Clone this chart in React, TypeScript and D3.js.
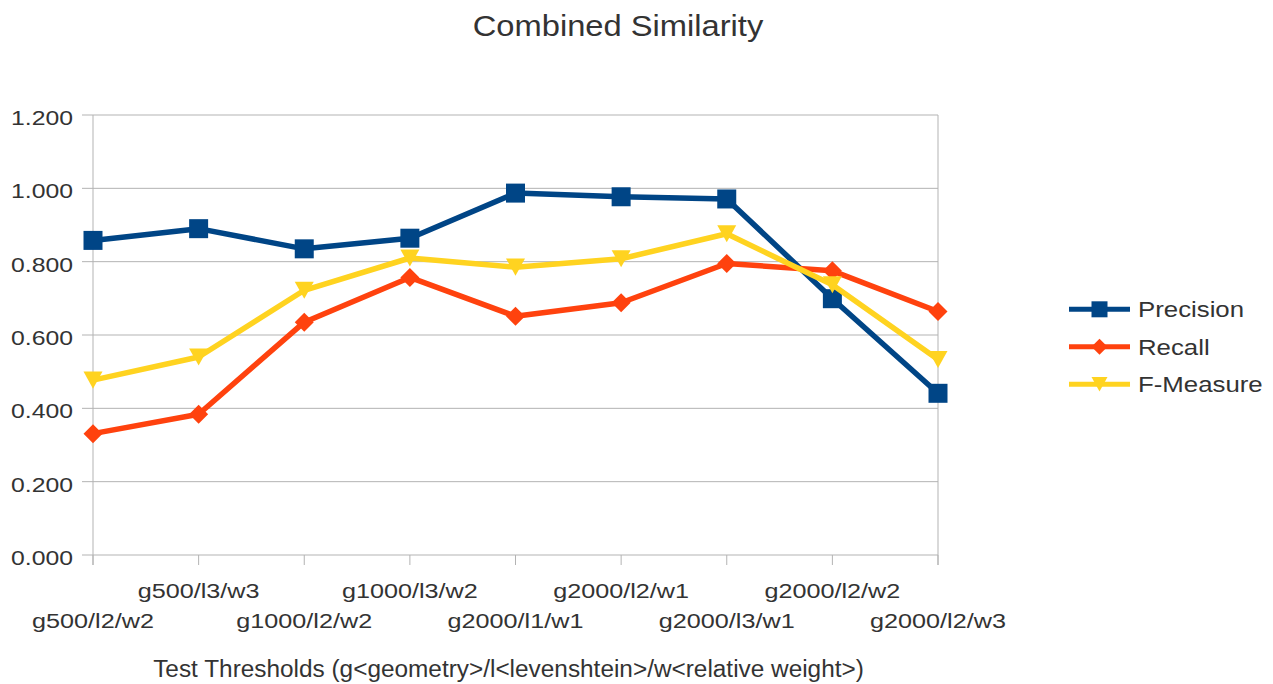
import React from "react";
import * as d3 from "d3";

const categories = [
  "g500/l2/w2",
  "g500/l3/w3",
  "g1000/l2/w2",
  "g1000/l3/w2",
  "g2000/l1/w1",
  "g2000/l2/w1",
  "g2000/l3/w1",
  "g2000/l2/w2",
  "g2000/l2/w3",
];

const precision = [0.858, 0.89, 0.835, 0.864, 0.987, 0.977, 0.971, 0.699, 0.441];
const recall = [0.331, 0.384, 0.635, 0.757, 0.651, 0.688, 0.795, 0.775, 0.664];
const fMeasure = [0.477, 0.54, 0.722, 0.81, 0.785, 0.808, 0.876, 0.737, 0.533];

const yTicks = [0, 0.2, 0.4, 0.6, 0.8, 1.0, 1.2];

const seriesNames = ["Precision", "Recall", "F-Measure"];
const seriesColors = ["#004586", "#ff420e", "#ffd320"];
const seriesShapes = ["square", "diamond", "triangle"];

const FONT = "'Liberation Sans', Arial, sans-serif";
const TEXT = "#333333";
const GRID = "#b3b3b3";

function markerPath(shape: string, r: number) {
  if (shape === "square") return `M${-r},${-r}H${r}V${r}H${-r}Z`;
  if (shape === "diamond") return `M0,${-r}L${r},0L0,${r}L${-r},0Z`;
  return `M${-r},${-r * 0.9}L${r},${-r * 0.9}L0,${r * 0.9}Z`;
}

export default function App() {
  const W = 1273;
  const H = 684;
  const left = 93;
  const right = 938;
  const top = 115;
  const bottom = 555;

  const x = d3.scalePoint<string>().domain(categories).range([left, right]);
  const y = d3.scaleLinear().domain([0, 1.2]).range([bottom, top]);

  const data = [precision, recall, fMeasure];
  const line = d3
    .line<number>()
    .x((_, i) => x(categories[i]) as number)
    .y((d) => y(d));

  const fmt = d3.format(".3f");

  return (
    <svg
      width={W}
      height={H}
      style={{ position: "absolute", left: 0, top: 0, background: "#fff" }}
      fontFamily={FONT}
    >
      <rect x={0} y={0} width={W} height={H} fill="#fff" />
      {/* title */}
      <text
        transform={`translate(618,35.5) scale(1.09,1)`}
        textAnchor="middle"
        fontSize={30}
        fill={TEXT}
      >
        Combined Similarity
      </text>

      {/* gridlines */}
      {yTicks.map((t) => (
        <line
          key={"g" + t}
          x1={left - 11}
          x2={right}
          y1={y(t)}
          y2={y(t)}
          stroke={GRID}
          strokeWidth={1}
        />
      ))}
      <line x1={left} x2={left} y1={top} y2={bottom + 10} stroke={GRID} strokeWidth={1} />
      <line x1={right} x2={right} y1={top} y2={bottom + 10} stroke={GRID} strokeWidth={1} />
      {categories.map((c) => (
        <line
          key={"xt" + c}
          x1={x(c)}
          x2={x(c)}
          y1={bottom}
          y2={bottom + 10}
          stroke={GRID}
          strokeWidth={1}
        />
      ))}

      {/* y labels */}
      {yTicks.map((t) => (
        <text
          key={"yl" + t}
          transform={`translate(73,${y(t) + 10}) scale(1.18,1)`}
          textAnchor="end"
          fontSize={21}
          fill={TEXT}
        >
          {fmt(t)}
        </text>
      ))}

      {/* x labels */}
      {categories.map((c, i) => (
        <text
          key={"xl" + c}
          transform={`translate(${x(c)},${i % 2 === 0 ? 627.5 : 597.5}) scale(1.2,1)`}
          textAnchor="middle"
          fontSize={21}
          fill={TEXT}
        >
          {c}
        </text>
      ))}

      {/* x axis title */}
      <text
        transform={`translate(508.5,677) scale(1.06,1)`}
        textAnchor="middle"
        fontSize={23}
        fill={TEXT}
      >
        {"Test Thresholds (g<geometry>/l<levenshtein>/w<relative weight>)"}
      </text>

      {/* series */}
      {data.map((vals, si) => (
        <g key={"s" + si}>
          <path
            d={line(vals) || ""}
            fill="none"
            stroke={seriesColors[si]}
            strokeWidth={5.5}
            strokeLinejoin="round"
          />
          {vals.map((v, i) => (
            <path
              key={i}
              transform={`translate(${x(categories[i])},${y(v)})`}
              d={markerPath(seriesShapes[si], 9.5)}
              fill={seriesColors[si]}
            />
          ))}
        </g>
      ))}

      {/* legend */}
      {seriesNames.map((n, i) => {
        const ly = 309.3 + i * 37.5;
        return (
          <g key={"lg" + n}>
            <line
              x1={1069}
              x2={1130}
              y1={ly}
              y2={ly}
              stroke={seriesColors[i]}
              strokeWidth={5}
            />
            <path
              transform={`translate(1099.5,${ly})`}
              d={markerPath(seriesShapes[i], 8)}
              fill={seriesColors[i]}
            />
            <text
              transform={`translate(1138,${ly + 8}) scale(1.2,1)`}
              fontSize={21.5}
              fill={TEXT}
            >
              {n}
            </text>
          </g>
        );
      })}
    </svg>
  );
}
